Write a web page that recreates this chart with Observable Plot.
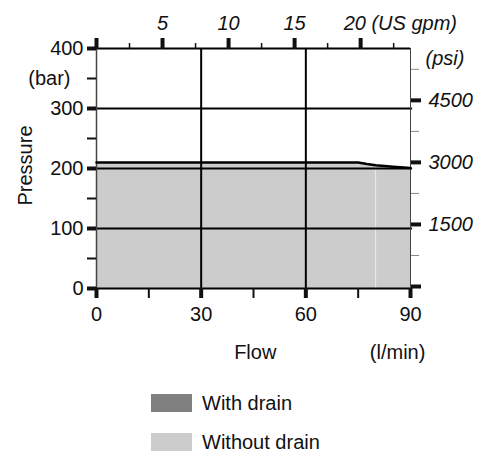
<!DOCTYPE html>
<html>
<head>
<meta charset="utf-8">
<script src="https://cdn.jsdelivr.net/npm/d3@7"></script>
<script src="https://cdn.jsdelivr.net/npm/@observablehq/plot@0.6"></script>
<style>
  html, body { margin: 0; padding: 0; background: white; }
  #wrap { position: relative; width: 493px; height: 455px; font-family: "Liberation Sans", Arial, sans-serif; font-size: 20px; color: #111; }
  .sw { position: absolute; left: 151px; width: 41px; height: 18px; }
  .lt { position: absolute; left: 202px; line-height: 20px; }
</style>
</head>
<body>
<div id="wrap"><div id="chart"></div></div>
<script>
// Data
const flow = [0, 75, 77.5, 80, 85, 90];          // l/min
const pressure = [210, 210, 207.5, 205.5, 203, 201]; // bar
const seamFlow = [80];

const xTicks = [0, 30, 60, 90];
const xMinor = [15, 45, 75];
const yTicks = [0, 100, 200, 300, 400];
const yMinor = [50, 150, 250, 350];
const gpmTicks = [0, 5, 10, 15, 20];
const gpmLabels = ["", "5", "10", "15", "20 (US gpm)"];
const gpmMinor = [2.5, 7.5, 12.5, 17.5, 22.5];
const psiTicks = [0, 1500, 3000, 4500];
const psiLabels = ["", "1500", "3000", "4500"];
const psiMinor = [750, 2250, 3750, 5250];
const legendLabels = ["With drain", "Without drain"];
const legendColors = ["#808080", "#cccccc"];

const LPM_PER_GPM = 3.78541;
const PSI_PER_BAR = 14.5038;

const curve = flow.map((f, i) => ({flow: f, p: pressure[i]}));
const pAt = f => { for (let i = 1; i < flow.length; i++) if (f <= flow[i]) { const t = (f - flow[i-1])/(flow[i]-flow[i-1]); return pressure[i-1] + t*(pressure[i]-pressure[i-1]); } return pressure[pressure.length-1]; };
const gpmX = gpmTicks.map(g => g * LPM_PER_GPM);
const gpmMinorX = gpmMinor.map(g => g * LPM_PER_GPM);
const psiY = psiTicks.map(p => p / PSI_PER_BAR);
const psiMinorY = psiMinor.map(p => p / PSI_PER_BAR);
const lastG = gpmLabels.length - 1;

const chart = Plot.plot({
  width: 493,
  height: 370,
  marginLeft: 96,
  marginRight: 83,
  marginTop: 48,
  marginBottom: 82,
  x: {domain: [0, 90]},
  y: {domain: [0, 400]},
  style: {fontFamily: "Liberation Sans, Arial, sans-serif", fontSize: "20px", color: "#111", background: "white", overflow: "visible"},
  marks: [
    Plot.areaY(curve, {x: "flow", y: "p", fill: "#cccccc"}),
    Plot.ruleX(seamFlow, {x: d => d, y1: 0, y2: d => pAt(d) - 1.5, stroke: "#ebebeb", strokeWidth: 1}),
    // grid
    Plot.ruleY([100, 200, 300], {y: d => d, x1: 0, x2: 90.6, stroke: "black", strokeWidth: 2}),
    Plot.ruleX([30, 60], {x: d => d, y1: 0, y2: 400, stroke: "black", strokeWidth: 2}),
    // frame
    Plot.ruleY([400], {y: d => d, x1: 0, x2: 90, stroke: "black", strokeWidth: 2}),
    Plot.ruleX([90], {x: d => d, y1: 0, y2: 400, stroke: "#444", strokeWidth: 1}),
    Plot.ruleX([0], {x: d => d, y1: 0, y2: 400, stroke: "#444", strokeWidth: 1.5}),
    Plot.ruleY([0], {y: d => d, x1: 0, x2: 90, stroke: "black", strokeWidth: 2}),
    Plot.line(curve, {x: "flow", y: "p", stroke: "black", strokeWidth: 2.5}),
    // bottom axis
    Plot.axisX({ticks: xTicks, anchor: "bottom", tickSize: 10, strokeWidth: 4, tickPadding: 8, label: null, tickFormat: d => String(d)}),
    Plot.axisX({ticks: xMinor, anchor: "bottom", tickSize: 10, strokeWidth: 2, label: null, tickFormat: () => ""}),
    // left axis
    Plot.axisY({ticks: yTicks, anchor: "left", tickSize: 9, strokeWidth: 4, tickPadding: 4, label: null, tickFormat: d => String(d)}),
    Plot.axisY({ticks: yMinor, anchor: "left", tickSize: 9, strokeWidth: 2, label: null, tickFormat: () => ""}),
    // top axis (US gpm)
    Plot.axisX({ticks: gpmX, anchor: "top", tickSize: 11, strokeWidth: 4, label: null, tickFormat: () => ""}),
    Plot.axisX({ticks: gpmMinorX, anchor: "top", tickSize: 6, strokeWidth: 1.5, label: null, tickFormat: () => ""}),
    Plot.text(gpmLabels.slice(0, lastG), {x: (d, i) => gpmX[i], y: () => 400, text: d => d, dy: -25, fontStyle: "italic", textAnchor: "middle"}),
    Plot.text([gpmLabels[lastG]], {x: () => gpmX[lastG], y: () => 400, text: d => d, dx: -17, dy: -25, fontStyle: "italic", textAnchor: "start"}),
    // right axis (psi)
    Plot.axisY({ticks: psiY, anchor: "right", tickSize: 10, strokeWidth: 4, label: null, tickFormat: () => "", dy: -2}),
    Plot.axisY({ticks: psiMinorY, anchor: "right", tickSize: 8, strokeWidth: 1, stroke: "#888", label: null, tickFormat: () => "", dy: -2}),
    Plot.text(psiLabels, {x: () => 90, y: (d, i) => psiY[i], text: d => d, dx: 18, dy: -2, fontStyle: "italic", textAnchor: "start"}),
    Plot.text(["(psi)"], {x: () => 90, y: () => 400, text: d => d, dx: 15, dy: 10, fontStyle: "italic", textAnchor: "start"}),
    // axis titles
    Plot.text(["(bar)"], {x: () => 0, y: () => 350, text: d => d, dx: -26, textAnchor: "end"}),
    Plot.text(["Pressure"], {x: () => 0, y: () => 205, text: d => d, dx: -71, rotate: -90, textAnchor: "middle"}),
    Plot.text(["Flow"], {x: () => 45.5, y: () => 0, text: d => d, dy: 64, textAnchor: "middle"}),
    Plot.text(["(l/min)"], {x: () => 86.3, y: () => 0, text: d => d, dy: 64, textAnchor: "middle"})
  ]
});
document.getElementById("chart").appendChild(chart);

// legend below the chart
const wrap = document.getElementById("wrap");
legendLabels.forEach((lab, i) => {
  const top = 394 + i * 39;
  const sw = document.createElement("div");
  sw.className = "sw"; sw.style.top = top + "px"; sw.style.background = legendColors[i];
  const t = document.createElement("div");
  t.className = "lt"; t.style.top = (top - 1) + "px"; t.textContent = lab;
  wrap.appendChild(sw); wrap.appendChild(t);
});
</script>
</body>
</html>
